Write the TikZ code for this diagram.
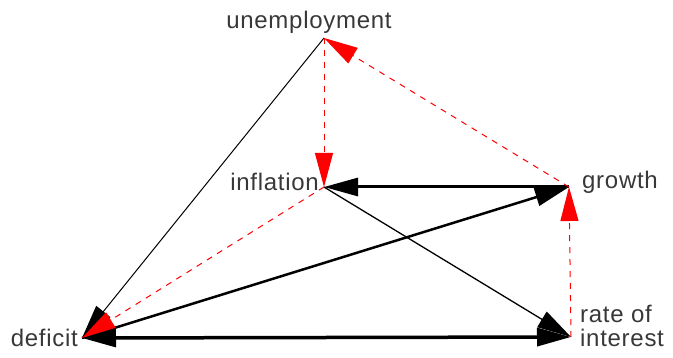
\documentclass[tikz,border=0pt]{standalone}
\usepackage{fontspec}
\setmainfont[LetterSpace=3]{Liberation Sans}
\usetikzlibrary{arrows.meta}

\tikzset{
 lab/.style={inner sep=0pt,text=black!78},
 thinline/.style={black,line width=1pt},
 thickline/.style={black,line width=3pt},
 reddash/.style={red,line width=1pt,dash pattern=on 6pt off 6pt}
}

\begin{document}
\begin{tikzpicture}[x=1pt,y=-1pt,>={Triangle[length=34pt,width=18pt]},font=\fontsize{24}{24}\selectfont]
\useasboundingbox (0,0) rectangle (673,358);
% end points
\coordinate (unemp) at (324,38);
\coordinate (infl) at (324,187);
\coordinate (grow) at (569,187);
\coordinate (rate) at (571,337);
\coordinate (defic) at (82,338);
% labels
\node[lab] (unemplab) at (309,22) {unemployment};
\node[lab,anchor=east] (infllab) at (319,181.5) {inflation};
\node[lab,anchor=west] (growlab) at (582,182.5) {growth};
\node[lab,anchor=east] (deficlab) at (78,337.5) {deficit};
\node[lab,anchor=base west,align=left] (ratelab) at (580,347) {rate of\\interest};
% black links
\draw[thinline,->] (unemp) -- (defic);
\draw[thinline,line width=1.3pt,->] (infl) -- (rate);
\draw[thickline,->] (grow) -- (infl);
\draw[thickline,line width=2.5pt,->] (defic) -- (grow);
\draw[thickline,line width=3.5pt,<->] (defic) -- (rate);
% red dashed links
\foreach \a/\b in {unemp/infl,grow/unemp,rate/grow,infl/defic}{
 \draw[reddash,->] (\a) -- (\b);
}
\end{tikzpicture}
\end{document}
